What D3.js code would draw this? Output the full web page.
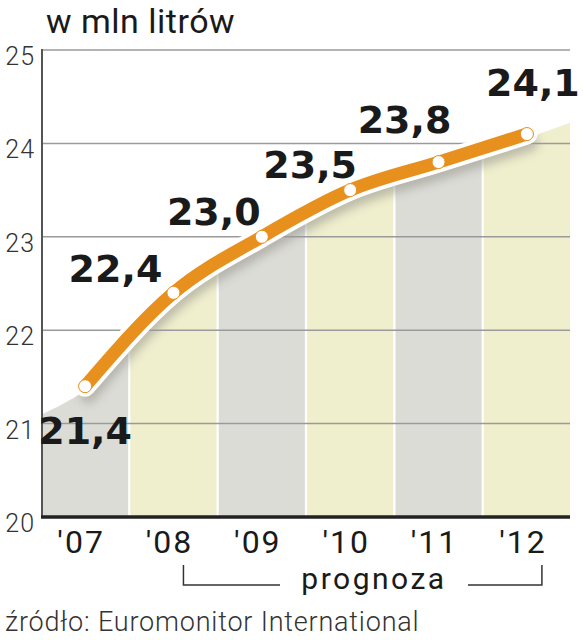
<!DOCTYPE html>
<html><head><meta charset="utf-8">
<script src="https://cdn.jsdelivr.net/npm/d3@7"></script>
<style>
html,body{margin:0;padding:0;background:#fff;}
svg{display:block;}
</style>
</head><body>
<svg id="c" width="583" height="640"></svg>
<script>
// ---- data ----
const years = ["'07","'08","'09","'10","'11","'12"];
const values = [21.4, 22.4, 23.0, 23.5, 23.8, 24.1];
const valueLabels = ["21,4","22,4","23,0","23,5","23,8","24,1"];
const yTicks = [20, 21, 22, 23, 24, 25];
const areaEdgeValues = [21.1, 24.22]; // top of shaded area at left / right chart edges
const title = "w mln litrów";
const forecastLabel = "prognoza";
const source = "źródło: Euromonitor International";

// ---- layout ----
const svg = d3.select("#c");
const L = 42, R = 570, T = 50, B = 517;
const x = d3.scaleBand().domain(years).range([L, R]).paddingInner(0.025).paddingOuter(0.0);
const y = d3.scaleLinear().domain([20, 25]).range([B, T]);
const cx = d => x(d) + x.bandwidth() / 2;
const labelOffsets = [[0, 58], [-58, -11], [-48, -12], [-40, -12], [-34, -29], [6, -38]];
const bandColors = ["#dcdcd7", "#efeecd"];
const sans = "Roboto, 'Liberation Sans', sans-serif";

const defs = svg.append("defs");
defs.append("filter").attr("id", "blur").attr("x", "-20%").attr("y", "-20%").attr("width", "140%").attr("height", "140%")
  .append("feGaussianBlur").attr("stdDeviation", 5);

// area (clip) following the line
const pts = values.map((v, i) => [cx(years[i]), y(v)]);
const areaPts = [[L, y(areaEdgeValues[0])]].concat(pts.map(p => [p[0], p[1] + 4])).concat([[R, y(areaEdgeValues[1])]]);
const areaGen = d3.area().x(d => d[0]).y0(B).y1(d => d[1]).curve(d3.curveMonotoneX);
defs.append("clipPath").attr("id", "areaClip").append("path").attr("d", areaGen(areaPts));

const gArea = svg.append("g").attr("clip-path", "url(#areaClip)");
gArea.selectAll("rect.band").data(years).join("rect")
  .attr("x", d => x(d)).attr("y", T).attr("width", x.bandwidth()).attr("height", B - T)
  .attr("fill", (d, i) => bandColors[i % 2]);

const lineGen = d3.line().x(d => d[0]).y(d => d[1]).curve(d3.curveMonotoneX);
// soft shadow under line
gArea.append("path").attr("d", lineGen(pts)).attr("transform", "translate(3,9)")
  .attr("fill", "none").attr("stroke", "#9a9a90").attr("stroke-width", 16).attr("stroke-linecap", "round")
  .attr("filter", "url(#blur)").attr("opacity", 0.6);

// gridlines
svg.append("g").selectAll("line").data(yTicks.filter(t => t > 20)).join("line")
  .attr("x1", L).attr("x2", R).attr("y1", d => y(d)).attr("y2", d => y(d))
  .attr("stroke", "#9a9a9a").attr("stroke-width", 1.5);

// axes
svg.append("line").attr("x1", L).attr("x2", L).attr("y1", T - 1).attr("y2", B)
  .attr("stroke", "#555").attr("stroke-width", 2);
svg.append("line").attr("x1", L - 1).attr("x2", R).attr("y1", B).attr("y2", B)
  .attr("stroke", "#222").attr("stroke-width", 3.5);

// y tick labels
svg.append("g").selectAll("text").data(yTicks).join("text")
  .attr("x", 35).attr("y", d => y(d) + 15).attr("text-anchor", "end")
  .attr("font-family", sans).attr("font-weight", 300).attr("letter-spacing", 1)
  .attr("font-size", 25).attr("fill", "#333").text(d => d);

// x labels
svg.append("g").selectAll("text").data(years).join("text")
  .attr("x", d => cx(d) - 4).attr("y", 553).attr("text-anchor", "middle")
  .attr("font-family", sans).attr("font-weight", 400).attr("letter-spacing", 2)
  .attr("font-size", 32).attr("fill", "#1a1a1a").text(d => d);

// line
svg.append("path").attr("d", lineGen(pts)).attr("fill", "none")
  .attr("stroke", "#fff").attr("stroke-width", 21).attr("stroke-linecap", "round").attr("stroke-linejoin", "round");
svg.append("path").attr("d", lineGen(pts)).attr("fill", "none")
  .attr("stroke", "#e8901e").attr("stroke-width", 13).attr("stroke-linecap", "round").attr("stroke-linejoin", "round");
svg.append("g").selectAll("circle").data(pts).join("circle")
  .attr("cx", d => d[0]).attr("cy", d => d[1]).attr("r", 6.5)
  .attr("fill", "#fff").attr("stroke", "#e8901e").attr("stroke-width", 1);

// value labels
svg.append("g").selectAll("text").data(values).join("text")
  .attr("x", (d, i) => pts[i][0] + labelOffsets[i][0])
  .attr("y", (d, i) => pts[i][1] + labelOffsets[i][1])
  .attr("text-anchor", "middle")
  .attr("font-family", "'DejaVu Sans', sans-serif").attr("font-weight", 700)
  .attr("font-size", 38).attr("fill", "#1a1a1a")
  .text((d, i) => valueLabels[i]);

// title
svg.append("text").attr("x", 46).attr("y", 33)
  .attr("font-family", sans).attr("font-weight", 400).attr("letter-spacing", 0.5)
  .attr("font-size", 34).attr("fill", "#1a1a1a").text(title);

// forecast bracket
const bx1 = cx("'08") + 10, bx2 = cx("'12") + 15;
svg.append("path")
  .attr("d", `M${bx1},565V585H280M468,585H${bx2}V565`)
  .attr("fill", "none").attr("stroke", "#333").attr("stroke-width", 1.5);
svg.append("text").attr("x", 374).attr("y", 589).attr("text-anchor", "middle")
  .attr("font-family", sans).attr("font-weight", 400).attr("letter-spacing", 2.5)
  .attr("font-size", 30).attr("fill", "#1a1a1a").text(forecastLabel);

// source
svg.append("text").attr("x", 5).attr("y", 631)
  .attr("font-family", sans).attr("font-weight", 300).attr("letter-spacing", 0.8)
  .attr("font-size", 27).attr("fill", "#333").text(source);
</script>
</body></html>
